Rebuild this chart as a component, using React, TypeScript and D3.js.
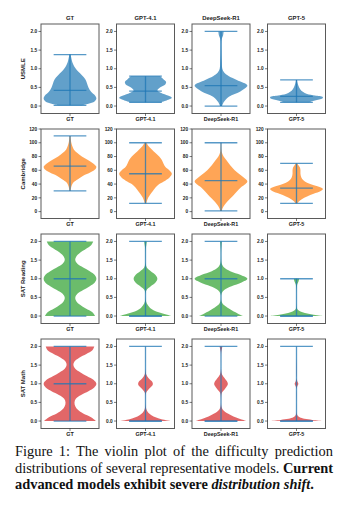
import { useEffect, useRef } from "react";
import * as d3 from "d3";

// ── Data ──────────────────────────────────────────────────────────────────────

const MODELS = ["GT", "GPT-4.1", "DeepSeek-R1", "GPT-5"];
const BENCHMARKS = ["USMLE", "Cambridge", "SAT Reading", "SAT Math"];
const BODY_COLORS = ["#1f77b4", "#ff7f0e", "#2ca02c", "#d62728"];

const Y_DOMAINS: [number, number][] = [[-0.2, 2.2], [-10, 120], [-0.2, 2.2], [-0.2, 2.2]];
const SCORE_TICKS = [0, 0.5, 1, 1.5, 2];
const CAMBRIDGE_TICKS = [0, 20, 40, 60, 80, 100, 120];
const Y_TICKS = [SCORE_TICKS, CAMBRIDGE_TICKS, SCORE_TICKS, SCORE_TICKS];

// min / max / median per model (GT, GPT-4.1, DeepSeek-R1, GPT-5)
const USMLE_STATS = { min: [0.02, 0.1, 0.0, 0.1], max: [1.38, 0.8, 2.0, 0.7], median: [0.42, 0.4, 0.55, 0.26] };
const CAMBRIDGE_STATS = { min: [30, 12, 1, 12], max: [110, 100, 100, 70], median: [66, 55, 45, 34] };
const SAT_READING_STATS = { min: [0, 0, 0, 0], max: [2, 2, 2, 1], median: [1, 0, 1, 0] };
const SAT_MATH_STATS = { min: [0, 0, 0, 0], max: [2, 2, 2, 2], median: [1, 0, 0, 0] };

// violin profiles: [value, relative density (1 = widest)]
const USMLE_GT = [[0.02, 0.45], [0.06, 0.7], [0.12, 0.93], [0.2, 1.0], [0.28, 0.95], [0.38, 0.8], [0.5, 0.7], [0.62, 0.64], [0.72, 0.58], [0.82, 0.46], [0.92, 0.32], [1.02, 0.2], [1.12, 0.12], [1.22, 0.07], [1.32, 0.04], [1.38, 0.02]];
const USMLE_GPT41 = [[0.1, 0.55], [0.15, 0.8], [0.22, 1.0], [0.28, 0.85], [0.35, 0.6], [0.42, 0.45], [0.5, 0.55], [0.58, 0.75], [0.65, 0.78], [0.72, 0.68], [0.8, 0.55]];
const USMLE_DS = [[0.0, 0.04], [0.1, 0.1], [0.25, 0.3], [0.4, 0.75], [0.55, 1.0], [0.7, 0.6], [0.8, 0.3], [0.9, 0.12], [1.0, 0.05], [1.2, 0.03], [1.5, 0.02], [1.8, 0.03], [1.9, 0.08], [2.0, 0.1]];
const USMLE_GPT5 = [[0.1, 0.45], [0.15, 0.7], [0.2, 0.98], [0.24, 1.0], [0.28, 0.7], [0.32, 0.4], [0.38, 0.24], [0.45, 0.14], [0.55, 0.07], [0.65, 0.03], [0.7, 0.02]];

const CAMBRIDGE_GT = [[30, 0.02], [36, 0.05], [42, 0.12], [47, 0.3], [52, 0.5], [57, 0.78], [62, 0.97], [65, 1.0], [70, 0.88], [75, 0.68], [80, 0.45], [85, 0.28], [90, 0.15], [95, 0.09], [100, 0.05], [105, 0.03], [110, 0.02]];
const CAMBRIDGE_GPT41 = [[12, 0.03], [16, 0.06], [20, 0.1], [25, 0.18], [30, 0.28], [35, 0.38], [40, 0.52], [45, 0.75], [50, 0.92], [55, 1.0], [60, 0.9], [65, 0.75], [70, 0.68], [75, 0.62], [80, 0.52], [85, 0.38], [90, 0.25], [95, 0.12], [100, 0.03]];
const CAMBRIDGE_DS = [[1, 0.03], [5, 0.06], [10, 0.14], [15, 0.25], [20, 0.38], [25, 0.5], [30, 0.62], [35, 0.75], [40, 0.93], [44, 1.0], [50, 0.85], [55, 0.68], [60, 0.52], [65, 0.4], [70, 0.3], [75, 0.2], [80, 0.1], [85, 0.04], [90, 0.02], [100, 0.01]];
const CAMBRIDGE_GPT5 = [[12, 0.04], [15, 0.1], [18, 0.2], [22, 0.4], [26, 0.65], [30, 0.92], [33, 1.0], [36, 0.85], [39, 0.6], [42, 0.4], [46, 0.25], [50, 0.18], [55, 0.15], [60, 0.15], [64, 0.13], [67, 0.08], [70, 0.03]];

const SAT_READING_GT = [[0, 0.95], [0.1, 0.85], [0.2, 0.6], [0.3, 0.38], [0.4, 0.24], [0.5, 0.2], [0.6, 0.28], [0.7, 0.5], [0.8, 0.75], [0.9, 0.94], [1.0, 1.0], [1.1, 0.94], [1.2, 0.75], [1.3, 0.5], [1.4, 0.28], [1.5, 0.2], [1.6, 0.24], [1.7, 0.38], [1.8, 0.6], [1.9, 0.8], [2.0, 0.88]];
const SAT_READING_GPT41 = [[0, 1.0], [0.05, 0.75], [0.1, 0.5], [0.15, 0.32], [0.2, 0.2], [0.3, 0.08], [0.4, 0.02], [0.5, 0.005], [0.6, 0.005], [0.7, 0.04], [0.8, 0.2], [0.9, 0.38], [1.0, 0.45], [1.1, 0.38], [1.2, 0.2], [1.3, 0.05], [1.4, 0.01], [1.6, 0.005], [1.8, 0.01], [1.9, 0.03], [2.0, 0.05]];
const SAT_READING_DS = [[0, 0.85], [0.05, 0.68], [0.1, 0.55], [0.15, 0.42], [0.2, 0.3], [0.25, 0.2], [0.3, 0.1], [0.4, 0.02], [0.5, 0.005], [0.6, 0.02], [0.7, 0.12], [0.8, 0.4], [0.9, 0.78], [1.0, 1.0], [1.1, 0.75], [1.2, 0.35], [1.3, 0.12], [1.4, 0.03], [1.6, 0.005], [1.8, 0.01], [1.9, 0.02], [2.0, 0.03]];
const SAT_READING_GPT5 = [[0, 1.0], [0.04, 0.6], [0.08, 0.32], [0.12, 0.15], [0.16, 0.06], [0.2, 0.02], [0.3, 0.005], [0.5, 0.003], [0.7, 0.005], [0.85, 0.03], [0.93, 0.08], [1.0, 0.1]];

const SAT_MATH_GT = [[0, 0.98], [0.1, 0.8], [0.2, 0.5], [0.3, 0.3], [0.4, 0.2], [0.5, 0.17], [0.6, 0.22], [0.7, 0.42], [0.8, 0.7], [0.9, 0.92], [1.0, 1.0], [1.1, 0.9], [1.2, 0.65], [1.3, 0.4], [1.4, 0.2], [1.5, 0.13], [1.6, 0.17], [1.7, 0.35], [1.8, 0.62], [1.9, 0.85], [2.0, 0.92]];
const SAT_MATH_GPT41 = [[0, 1.0], [0.05, 0.6], [0.1, 0.38], [0.15, 0.24], [0.2, 0.14], [0.25, 0.08], [0.3, 0.04], [0.4, 0.01], [0.6, 0.003], [0.75, 0.02], [0.85, 0.12], [0.95, 0.26], [1.0, 0.28], [1.05, 0.26], [1.15, 0.12], [1.25, 0.03], [1.35, 0.005], [1.7, 0.002], [2.0, 0.003]];
const SAT_MATH_DS = [[0, 0.98], [0.05, 0.75], [0.1, 0.55], [0.15, 0.4], [0.2, 0.26], [0.25, 0.15], [0.3, 0.07], [0.4, 0.015], [0.6, 0.005], [0.75, 0.03], [0.85, 0.14], [0.95, 0.24], [1.0, 0.26], [1.05, 0.24], [1.15, 0.14], [1.25, 0.04], [1.35, 0.008], [1.6, 0.002], [1.85, 0.01], [1.95, 0.04], [2.0, 0.05]];
const SAT_MATH_GPT5 = [[0, 1.0], [0.03, 0.6], [0.06, 0.3], [0.1, 0.12], [0.15, 0.04], [0.2, 0.01], [0.4, 0.002], [0.85, 0.002], [0.93, 0.03], [1.0, 0.07], [1.07, 0.03], [1.15, 0.002], [1.8, 0.001], [2.0, 0.002]];

const PROFILES = [
  [USMLE_GT, USMLE_GPT41, USMLE_DS, USMLE_GPT5],
  [CAMBRIDGE_GT, CAMBRIDGE_GPT41, CAMBRIDGE_DS, CAMBRIDGE_GPT5],
  [SAT_READING_GT, SAT_READING_GPT41, SAT_READING_DS, SAT_READING_GPT5],
  [SAT_MATH_GT, SAT_MATH_GPT41, SAT_MATH_DS, SAT_MATH_GPT5],
];
const STATS = [USMLE_STATS, CAMBRIDGE_STATS, SAT_READING_STATS, SAT_MATH_STATS];

// ── Layout ────────────────────────────────────────────────────────────────────

const W = 354;
const H = 506;
const PANEL_W = 58;
const PANEL_H = 89.5;
const COL_X = d3.range(4).map((i) => 41 + i * 75.5);
const ROW_Y = d3.range(4).map((j) => 24 + j * 105);
const HALF = 0.25; // violin half width (x units)
const BAR = 0.155; // half length of min / max / median bars
const LINE_COLOR = "#1f77b4";
const FONT = "'Liberation Sans', Arial, sans-serif";
const SERIF = "'Liberation Serif', 'Times New Roman', serif";

function Panel({ row, col }: { row: number; col: number }) {
  const x0 = COL_X[col];
  const y0 = ROW_Y[row];
  const x = d3.scaleLinear().domain([0.725, 1.275]).range([x0, x0 + PANEL_W]);
  const y = d3.scaleLinear().domain(Y_DOMAINS[row]).range([y0 + PANEL_H, y0]);
  const prof = PROFILES[row][col] as [number, number][];
  const st = STATS[row];
  const area = d3
    .area<[number, number]>()
    .y((d) => y(d[0]))
    .x0((d) => x(1 - d[1] * HALF))
    .x1((d) => x(1 + d[1] * HALF))
    .curve(d3.curveCatmullRom.alpha(0.5));
  const fmt = row === 1 ? d3.format("d") : d3.format(".1f");

  return (
    <g>
      <path d={area(prof) ?? ""} fill={BODY_COLORS[row]} fillOpacity={0.7} />
      <g stroke={LINE_COLOR} strokeOpacity={0.75} strokeWidth={1.3}>
        <line x1={x(1)} x2={x(1)} y1={y(st.min[col])} y2={y(st.max[col])} />
        {[st.min[col], st.max[col], st.median[col]].map((v, k) => (
          <line key={k} x1={x(1 - BAR)} x2={x(1 + BAR)} y1={y(v)} y2={y(v)} />
        ))}
      </g>
      <rect x={x0} y={y0} width={PANEL_W} height={PANEL_H} fill="none" stroke="#5a5a5a" strokeWidth={1} />
      {Y_TICKS[row].map((t) => (
        <g key={t}>
          <line x1={x0 - 2.5} x2={x0} y1={y(t)} y2={y(t)} stroke="#222" strokeWidth={0.6} />
          <text x={x0 - 3.8} y={y(t)} dy="0.35em" textAnchor="end" fontSize={4.8} fontWeight="bold" fill="#222" fontFamily={FONT}>
            {fmt(t)}
          </text>
        </g>
      ))}
      <line x1={x(1)} x2={x(1)} y1={y0 + PANEL_H} y2={y0 + PANEL_H + 2.5} stroke="#222" strokeWidth={0.6} />
      <text x={x(1)} y={y0 + PANEL_H + 7.8} textAnchor="middle" fontSize={5.4} fontWeight="bold" fill="#222" fontFamily={FONT}>
        {MODELS[col]}
      </text>
      {row === 0 && (
        <text x={x(1)} y={y0 - 4} textAnchor="middle" fontSize={5.9} fontWeight="bold" fill="#222" fontFamily={FONT}>
          {MODELS[col]}
        </text>
      )}
      {col === 0 && (
        <text
          transform={`translate(25,${y0 + PANEL_H / 2}) rotate(-90)`}
          textAnchor="middle"
          fontSize={6}
          fontWeight="bold"
          fill="#222"
          fontFamily={FONT}
        >
          {BENCHMARKS[row]}
        </text>
      )}
    </g>
  );
}

const CAPTION_LEFT = 15;
const CAPTION_RIGHT = 333;

export default function App() {
  const line1 = useRef<SVGTextElement>(null);
  const line2 = useRef<SVGTextElement>(null);

  // justify the first two caption lines by widening word gaps
  useEffect(() => {
    [line1.current, line2.current].forEach((el) => {
      if (!el) return;
      const sel = d3.select(el).attr("word-spacing", 0);
      const natural = el.getComputedTextLength();
      const spaces = (el.textContent ?? "").trim().split(" ").length - 1;
      sel.attr("word-spacing", (CAPTION_RIGHT - CAPTION_LEFT - natural) / spaces);
    });
  }, []);

  return (
    <svg width={W} height={H} style={{ position: "absolute", left: 0, top: 0, background: "#fff" }}>
      {BENCHMARKS.map((_, row) =>
        MODELS.map((_, col) => <Panel key={`${row}-${col}`} row={row} col={col} />)
      )}
      <g fontFamily={SERIF} fontSize={14.4} fill="#111">
        <text ref={line1} x={CAPTION_LEFT} y={456}>
          Figure 1: The violin plot of the difficulty prediction
        </text>
        <text ref={line2} x={CAPTION_LEFT} y={472.5}>
          distributions of several representative models. <tspan fontWeight="bold">Current</tspan>
        </text>
        <text x={CAPTION_LEFT} y={489} fontWeight="bold">
          advanced models exhibit severe <tspan fontStyle="italic">distribution shift</tspan>.
        </text>
      </g>
    </svg>
  );
}
